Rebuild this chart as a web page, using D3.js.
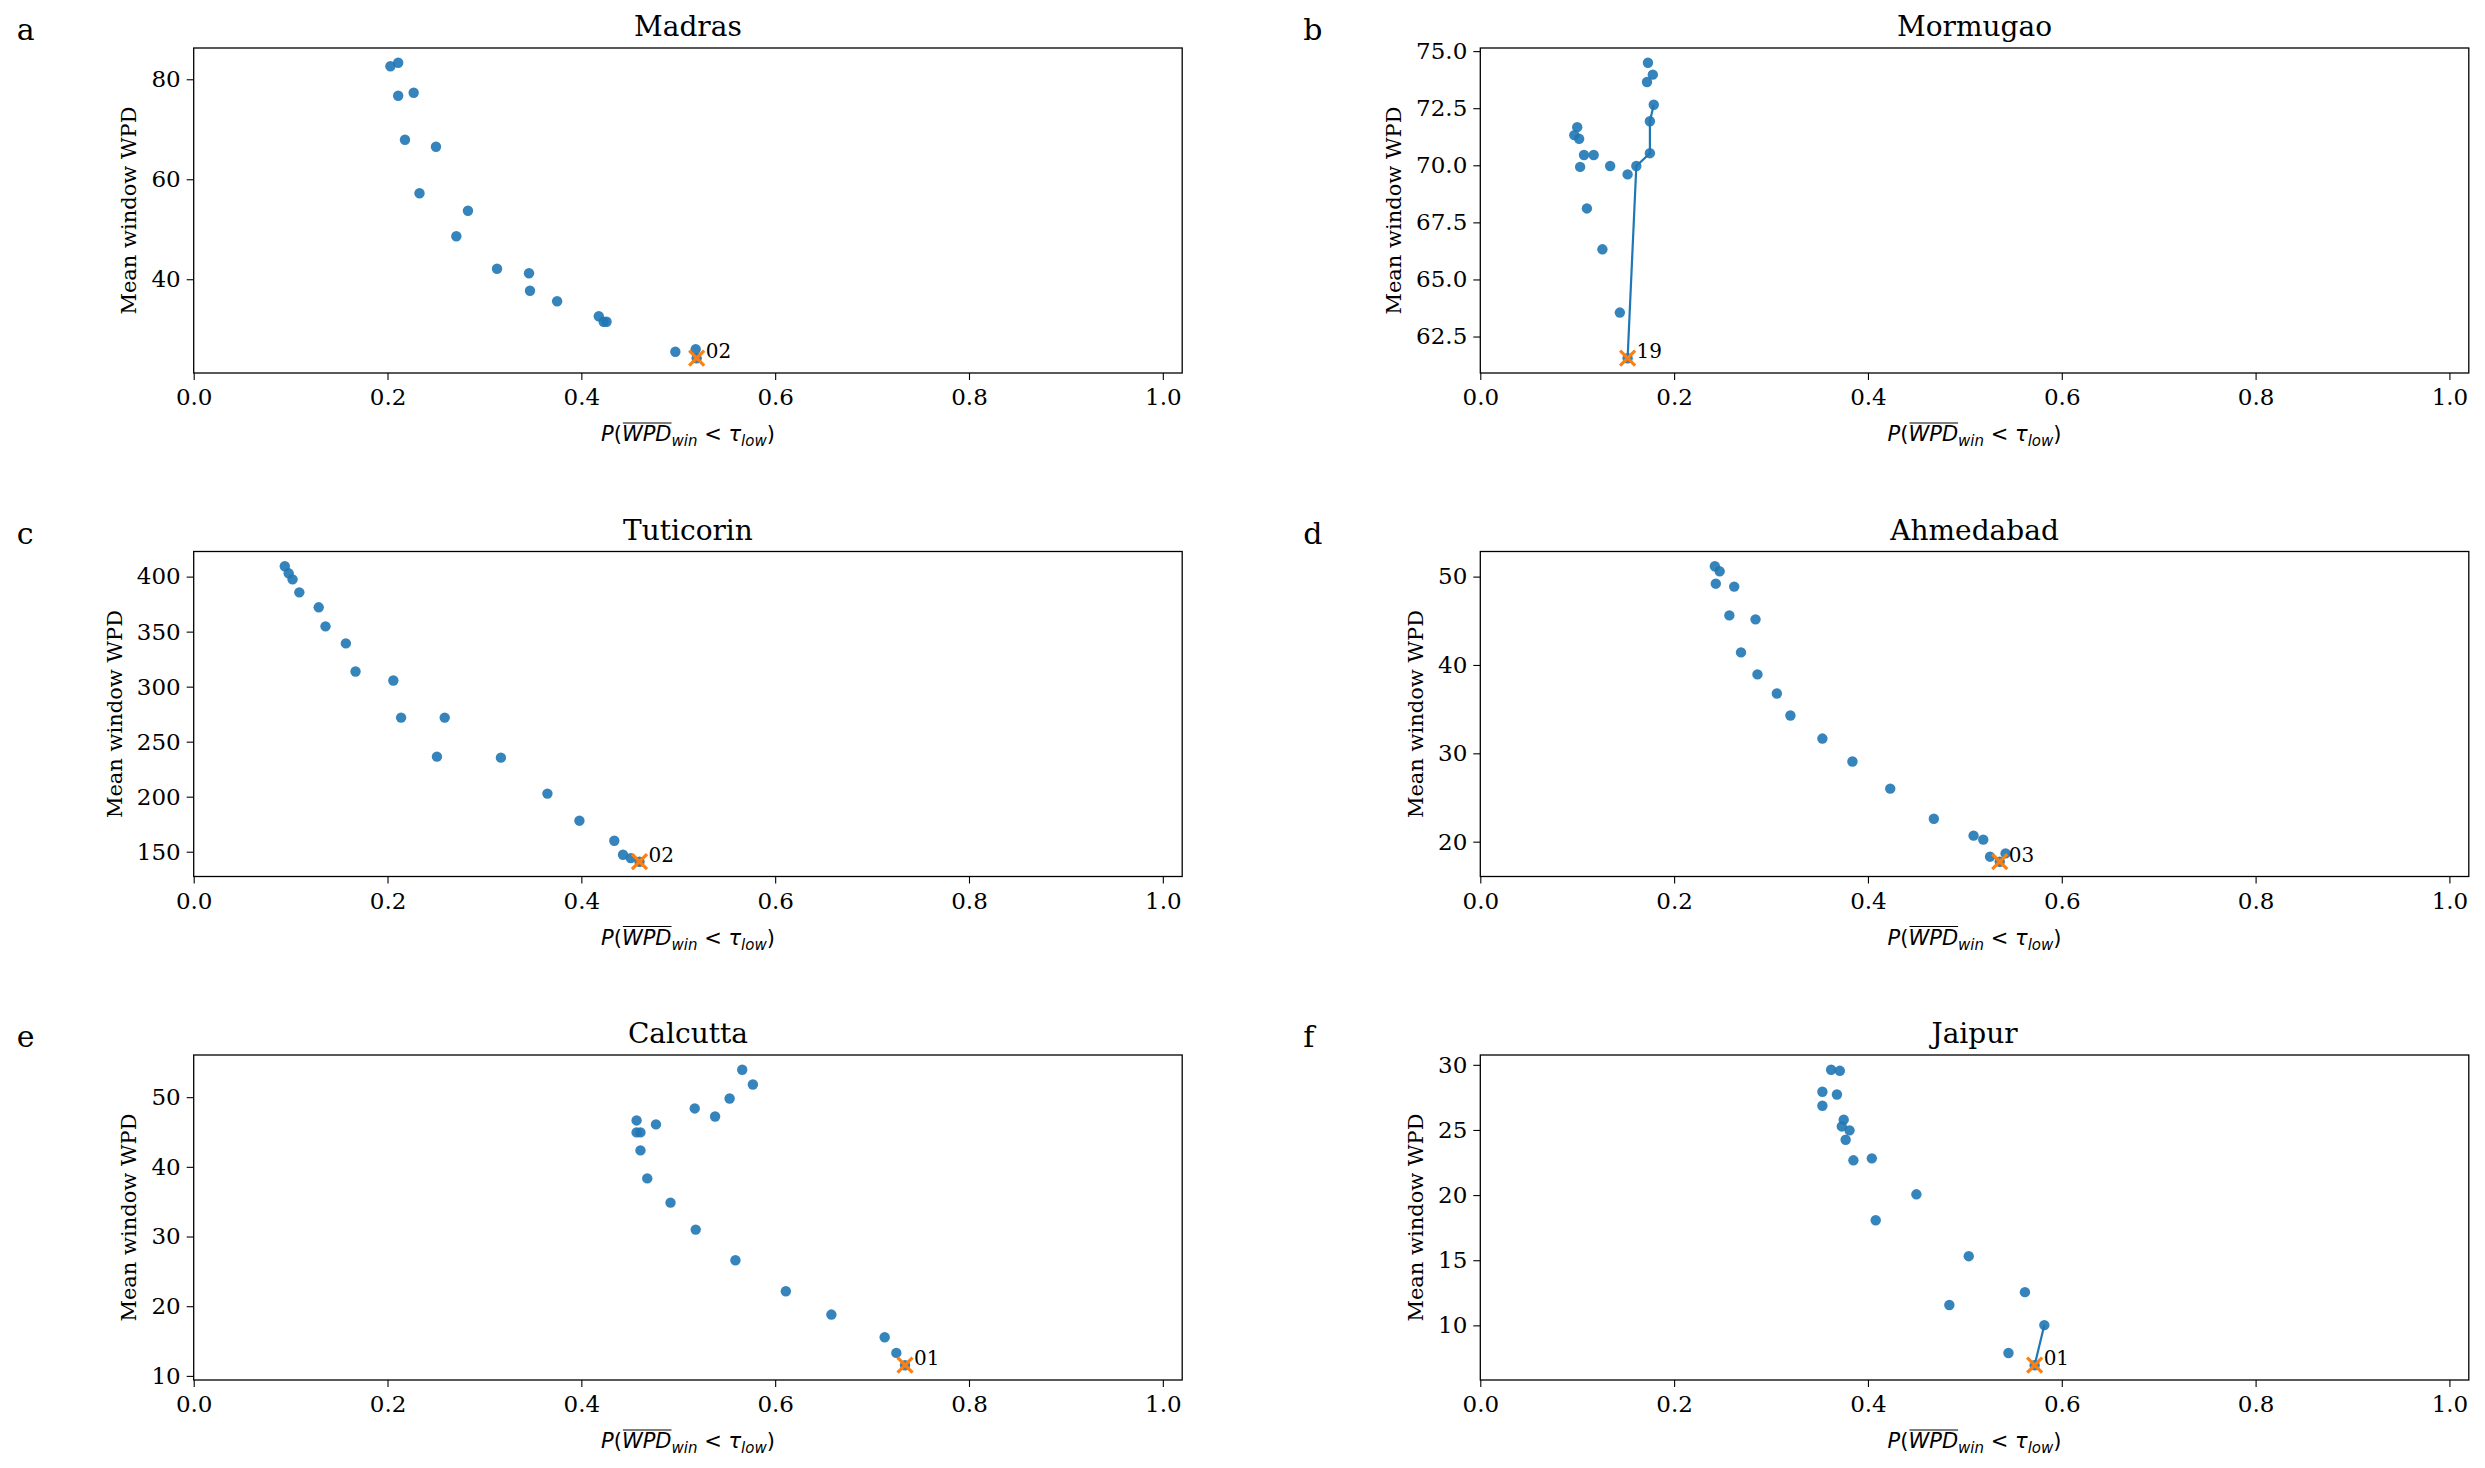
<!DOCTYPE html>
<html>
<head>
<meta charset="utf-8">
<script src="https://cdn.jsdelivr.net/npm/d3@7"></script>
<style>
  html, body { margin: 0; padding: 0; background: #fff; }
  svg { display: block; }
</style>
</head>
<body>
<svg width="2485" height="1468"></svg>
<script>
// values, one pair of arrays per city (last point = selected one)
var madrasX = [0.203, 0.211, 0.211, 0.227, 0.218, 0.250, 0.233, 0.283, 0.271, 0.313, 0.346, 0.347, 0.375, 0.418, 0.423, 0.426, 0.497, 0.518, 0.519]
var madrasY = [82.6, 83.3, 76.7, 77.3, 67.9, 66.5, 57.2, 53.7, 48.6, 42.1, 41.2, 37.7, 35.6, 32.6, 31.5, 31.5, 25.5, 26.0, 24.2]

var mormugaoX = [0.173, 0.178, 0.172, 0.179, 0.175, 0.175, 0.161, 0.152, 0.134, 0.100, 0.097, 0.102, 0.107, 0.117, 0.103, 0.110, 0.126, 0.144, 0.152]
var mormugaoY = [74.49, 73.97, 73.65, 72.65, 71.93, 70.53, 69.97, 69.60, 69.97, 71.67, 71.32, 71.16, 70.45, 70.45, 69.93, 68.11, 66.32, 63.55, 61.55]

var tuticorinX = [0.094, 0.098, 0.102, 0.109, 0.129, 0.136, 0.157, 0.167, 0.206, 0.214, 0.259, 0.251, 0.317, 0.365, 0.398, 0.434, 0.443, 0.451, 0.460]
var tuticorinY = [409.4, 403.0, 397.5, 385.7, 372.1, 354.8, 339.3, 313.8, 305.6, 271.9, 271.9, 236.4, 235.5, 202.8, 178.2, 160.0, 147.2, 144.2, 140.9]

var ahmedabadX = [0.242, 0.247, 0.243, 0.262, 0.257, 0.284, 0.269, 0.286, 0.306, 0.320, 0.353, 0.384, 0.423, 0.468, 0.509, 0.519, 0.526, 0.542, 0.536]
var ahmedabadY = [51.17, 50.6, 49.2, 48.87, 45.61, 45.16, 41.42, 38.93, 36.77, 34.28, 31.67, 29.07, 26.0, 22.6, 20.68, 20.23, 18.3, 18.67, 17.73]

var calcuttaX = [0.566, 0.577, 0.553, 0.517, 0.538, 0.457, 0.477, 0.457, 0.461, 0.461, 0.468, 0.492, 0.518, 0.559, 0.611, 0.658, 0.713, 0.725, 0.734]
var calcuttaY = [53.93, 51.82, 49.81, 48.38, 47.23, 46.66, 46.09, 44.94, 44.94, 42.36, 38.34, 34.86, 30.99, 26.59, 22.14, 18.8, 15.55, 13.3, 11.53]

var jaipurX = [0.362, 0.371, 0.353, 0.368, 0.353, 0.375, 0.373, 0.381, 0.377, 0.385, 0.404, 0.450, 0.408, 0.504, 0.562, 0.484, 0.582, 0.545, 0.572]
var jaipurY = [29.62, 29.54, 27.93, 27.72, 26.86, 25.79, 25.27, 24.97, 24.25, 22.67, 22.82, 20.06, 18.07, 15.31, 12.55, 11.56, 10.02, 7.88, 6.94]

// index chains of the connecting line (only where it shows)
var mormugaoPath = [18, 6, 5, 4, 3]
var jaipurPath = [18, 16]

var titles = ['Madras', 'Mormugao', 'Tuticorin', 'Ahmedabad', 'Calcutta', 'Jaipur']
var letters = ['a', 'b', 'c', 'd', 'e', 'f']
var bestLabels = ['02', '19', '02', '03', '01', '01']

var xTicks = [0, 0.2, 0.4, 0.6, 0.8, 1.0]
var madrasTicks = [40, 60, 80]
var mormugaoTicks = [62.5, 65, 67.5, 70, 72.5, 75]
var tuticorinTicks = [150, 200, 250, 300, 350, 400]
var ahmedabadTicks = [20, 30, 40, 50]
var calcuttaTicks = [10, 20, 30, 40, 50]
var jaipurTicks = [10, 15, 20, 25, 30]

var panels = [
  {x: madrasX, y: madrasY, ticks: madrasTicks, fmt: 'd', path: []},
  {x: mormugaoX, y: mormugaoY, ticks: mormugaoTicks, fmt: '.1f', path: mormugaoPath},
  {x: tuticorinX, y: tuticorinY, ticks: tuticorinTicks, fmt: 'd', path: []},
  {x: ahmedabadX, y: ahmedabadY, ticks: ahmedabadTicks, fmt: 'd', path: []},
  {x: calcuttaX, y: calcuttaY, ticks: calcuttaTicks, fmt: 'd', path: []},
  {x: jaipurX, y: jaipurY, ticks: jaipurTicks, fmt: 'd', path: jaipurPath}
]

var svg = d3.select('svg')
svg.append('rect').attr('width', 2485).attr('height', 1468).attr('fill', '#fff')

var colLeft = [193.7, 1480.3]
var rowTop = [48, 551.5, 1055]
var pw = 988.5
var ph = 325
var serif = 'DejaVu Serif'

panels.forEach(function (p, i) {
  var left = colLeft[i % 2]
  var top = rowTop[Math.floor(i / 2)]
  var g = svg.append('g').attr('transform', 'translate(' + left + ',' + top + ')')

  var x = d3.scaleLinear().domain([0, 1.02]).range([0, pw])
  var ext = d3.extent(p.y)
  var pad = (ext[1] - ext[0]) * 0.05
  var y = d3.scaleLinear().domain([ext[0] - pad, ext[1] + pad]).range([ph, 0])

  var pts = p.x.map(function (d, k) { return {x: d, y: p.y[k]} })
  var best = pts[pts.length - 1]

  // axes
  var xa = g.append('g')
    .attr('transform', 'translate(0,' + ph + ')')
    .call(d3.axisBottom(x).tickValues(xTicks).tickFormat(d3.format('.1f')).tickSize(7).tickPadding(9))
  var ya = g.append('g')
    .call(d3.axisLeft(y).tickValues(p.ticks).tickFormat(d3.format(p.fmt)).tickSize(7).tickPadding(6))

  ;[xa, ya].forEach(function (a) {
    a.select('.domain').remove()
    a.selectAll('line').attr('stroke', '#000').attr('stroke-width', 1.1)
    a.selectAll('text')
      .attr('fill', '#000')
      .style('font-family', serif)
      .style('font-size', '23px')
  })

  // scatter
  g.selectAll('circle')
    .data(pts)
    .enter()
    .append('circle')
    .attr('cx', function (d) { return x(d.x) })
    .attr('cy', function (d) { return y(d.y) })
    .attr('r', 5.2)
    .attr('fill', '#1f77b4')
    .attr('fill-opacity', 0.9)

  if (p.path.length) {
    var ln = d3.line()
      .x(function (k) { return x(pts[k].x) })
      .y(function (k) { return y(pts[k].y) })
    g.append('path')
      .attr('d', ln(p.path))
      .style('fill', 'none')
      .style('stroke', '#1f77b4')
      .style('stroke-width', 2.2)
  }

  // selected point
  var bx = x(best.x)
  var by = y(best.y)
  g.append('path')
    .attr('d', 'M-7.5,-7.5L7.5,7.5M-7.5,7.5L7.5,-7.5')
    .attr('transform', 'translate(' + bx + ',' + by + ')')
    .style('stroke', '#ff7f0e')
    .style('stroke-width', 3.2)
    .style('fill', 'none')
  g.append('text')
    .attr('x', bx + 9)
    .attr('y', by)
    .style('font-family', serif)
    .style('font-size', '20px')
    .text(bestLabels[i])

  // frame
  g.append('rect')
    .attr('width', pw)
    .attr('height', ph)
    .style('fill', 'none')
    .style('stroke', '#000')
    .style('stroke-width', 1.3)

  // title and panel letter
  g.append('text')
    .attr('x', pw / 2)
    .attr('y', -12)
    .attr('text-anchor', 'middle')
    .style('font-family', serif)
    .style('font-size', '28px')
    .text(titles[i])
  g.append('text')
    .attr('x', -177)
    .attr('y', -8)
    .style('font-family', serif)
    .style('font-size', '30px')
    .text(letters[i])

  // y label, placed left of the tick labels
  var bb = ya.node().getBBox()
  g.append('text')
    .attr('transform', 'translate(' + (bb.x - 15) + ',' + (ph / 2) + ') rotate(-90)')
    .attr('text-anchor', 'middle')
    .style('font-family', serif)
    .style('font-size', '21px')
    .text('Mean window WPD')

  // x label: P(overline{WPD}_win < tau_low)
  var xl = g.append('text')
    .attr('x', pw / 2)
    .attr('y', ph + 68)
    .attr('text-anchor', 'middle')
    .style('font-family', 'DejaVu Sans')
    .style('font-size', '21px')
  xl.append('tspan').style('font-style', 'italic').text('P')
  xl.append('tspan').text('(')
  xl.append('tspan').style('font-style', 'italic').text('WPD')
  xl.append('tspan').style('font-style', 'italic').style('font-size', '15px').attr('dy', 5).text('win')
  xl.append('tspan').attr('dy', -5).text(' < ')
  xl.append('tspan').style('font-style', 'italic').text('τ')
  xl.append('tspan').style('font-style', 'italic').style('font-size', '15px').attr('dy', 5).text('low')
  xl.append('tspan').attr('dy', -5).text(')')

  var node = xl.node()
  var x0 = node.getStartPositionOfChar(2).x
  var x1 = node.getEndPositionOfChar(4).x
  g.append('line')
    .attr('x1', x0 + 1)
    .attr('x2', x1)
    .attr('y1', ph + 68 - 18)
    .attr('y2', ph + 68 - 18)
    .style('stroke', '#000')
    .style('stroke-width', 1.2)
})
</script>
</body>
</html>
